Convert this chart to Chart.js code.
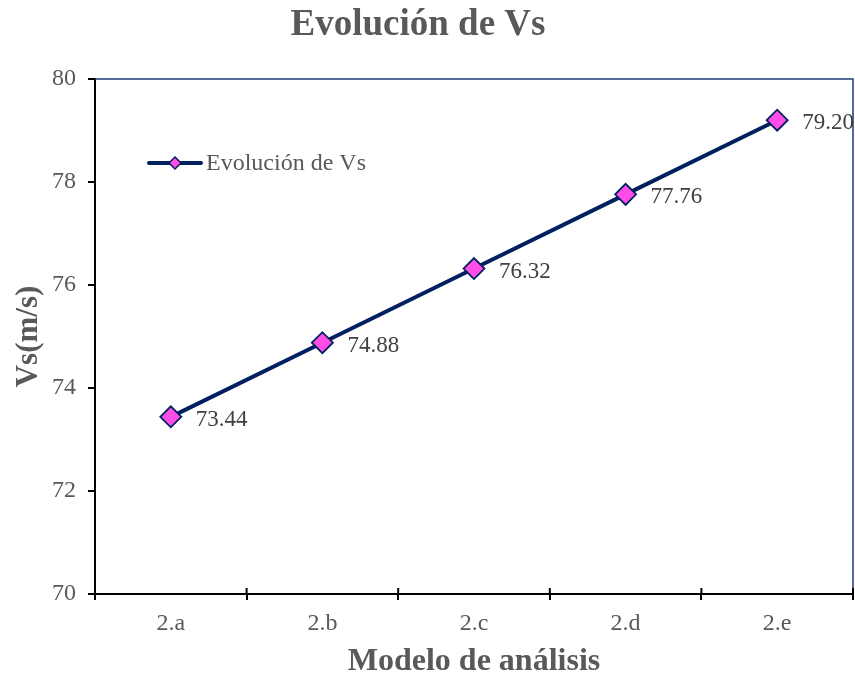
<!DOCTYPE html>
<html>
<head>
<meta charset="utf-8">
<script src="https://cdn.jsdelivr.net/npm/chart.js@4/dist/chart.umd.min.js"></script>
<style>
html,body{margin:0;padding:0;background:#fff;}
#wrap{width:855px;height:676px;position:relative;}
</style>
</head>
<body>
<div id="wrap"><canvas id="c" width="855" height="676"></canvas></div>
<script>
const chartTitle = 'Evolución de Vs';
const categories = ['2.a', '2.b', '2.c', '2.d', '2.e'];
const seriesName = 'Evolución de Vs';
const vsValues = [73.44, 74.88, 76.32, 77.76, 79.20];
const yTicks = [70, 72, 74, 76, 78, 80];
const xTitle = 'Modelo de análisis';
const yTitle = 'Vs(m/s)';

const SERIF = '"Liberation Serif", "Times New Roman", serif';
const TEXT = '#595959';
const LINE = '#002060';
const MARK = '#ff4de6';

const decor = {
  id: 'decor',
  afterDraw(chart) {
    const ctx = chart.ctx;
    const a = chart.chartArea;
    const xs = chart.scales.x;
    ctx.save();
    // top and right border
    ctx.strokeStyle = '#1f3a78';
    ctx.lineWidth = 1.5;
    ctx.beginPath();
    ctx.moveTo(a.left, a.top);
    ctx.lineTo(a.right, a.top);
    ctx.lineTo(a.right, a.bottom);
    ctx.stroke();
    // inner halves of x ticks
    ctx.strokeStyle = '#000';
    ctx.lineWidth = 2;
    const n = categories.length;
    for (let i = 0; i <= n; i++) {
      const x = xs.getPixelForValue(i - 0.5);
      ctx.beginPath();
      ctx.moveTo(x, a.bottom);
      ctx.lineTo(x, a.bottom - 6);
      ctx.stroke();
    }
    // main title
    ctx.fillStyle = TEXT;
    ctx.font = 'bold 37px ' + SERIF;
    ctx.textAlign = 'center';
    ctx.textBaseline = 'middle';
    ctx.fillText(chartTitle, 418, 25);
    // legend
    const ly = 163;
    ctx.strokeStyle = LINE;
    ctx.lineWidth = 4;
    ctx.lineCap = 'round';
    ctx.beginPath();
    ctx.moveTo(149, ly);
    ctx.lineTo(201, ly);
    ctx.stroke();
    ctx.beginPath();
    ctx.moveTo(175, ly - 6);
    ctx.lineTo(181, ly);
    ctx.lineTo(175, ly + 6);
    ctx.lineTo(169, ly);
    ctx.closePath();
    ctx.fillStyle = MARK;
    ctx.fill();
    ctx.lineWidth = 1.5;
    ctx.stroke();
    ctx.fillStyle = TEXT;
    ctx.font = '24px ' + SERIF;
    ctx.textAlign = 'left';
    ctx.fillText(seriesName, 206, ly + 1);
    // data labels
    const meta = chart.getDatasetMeta(0);
    ctx.fillStyle = '#404040';
    ctx.font = '23px ' + SERIF;
    meta.data.forEach((pt, i) => {
      ctx.fillText(vsValues[i].toFixed(2), pt.x + 25, pt.y + 3);
    });
    ctx.restore();
  }
};

new Chart(document.getElementById('c'), {
  type: 'line',
  data: {
    labels: categories,
    datasets: [{
      label: seriesName,
      data: vsValues,
      borderColor: LINE,
      borderWidth: 4,
      pointStyle: 'rectRot',
      pointRadius: 10.5,
      pointHoverRadius: 10.5,
      pointBackgroundColor: MARK,
      pointBorderColor: LINE,
      pointBorderWidth: 1.8,
      tension: 0,
      clip: false
    }]
  },
  options: {
    responsive: false,
    animation: false,
    layout: { autoPadding: false, padding: { top: 79, right: 2, left: 0, bottom: 0 } },
    plugins: {
      legend: { display: false },
      title: { display: false },
      tooltip: { enabled: false }
    },
    scales: {
      x: {
        type: 'category',
        offset: true,
        border: { display: true, color: '#000', width: 2 },
        grid: { display: true, offset: true, drawOnChartArea: false, drawTicks: true, tickLength: 6, color: '#000', lineWidth: 2 },
        ticks: { color: TEXT, font: { family: SERIF, size: 24 }, padding: 9, maxRotation: 0 },
        title: { display: true, text: xTitle, color: TEXT, font: { family: SERIF, size: 32, weight: 'bold' }, padding: { top: 0, bottom: -5 } },
        afterFit(s) { s.height = 82; }
      },
      y: {
        min: 70, max: 80,
        afterBuildTicks(s) { s.ticks = yTicks.map(v => ({ value: v })); },
        border: { display: true, color: '#000', width: 2 },
        grid: { display: true, drawOnChartArea: false, drawTicks: true, tickLength: 7, color: '#000', lineWidth: 2 },
        ticks: { color: TEXT, font: { family: SERIF, size: 24 }, padding: 12 },
        title: { display: true, text: yTitle, color: TEXT, font: { family: SERIF, size: 31, weight: 'bold' }, padding: { top: 10, bottom: 0 } },
        afterFit(s) { s.width = 95; }
      }
    }
  },
  plugins: [decor]
});
</script>
</body>
</html>
